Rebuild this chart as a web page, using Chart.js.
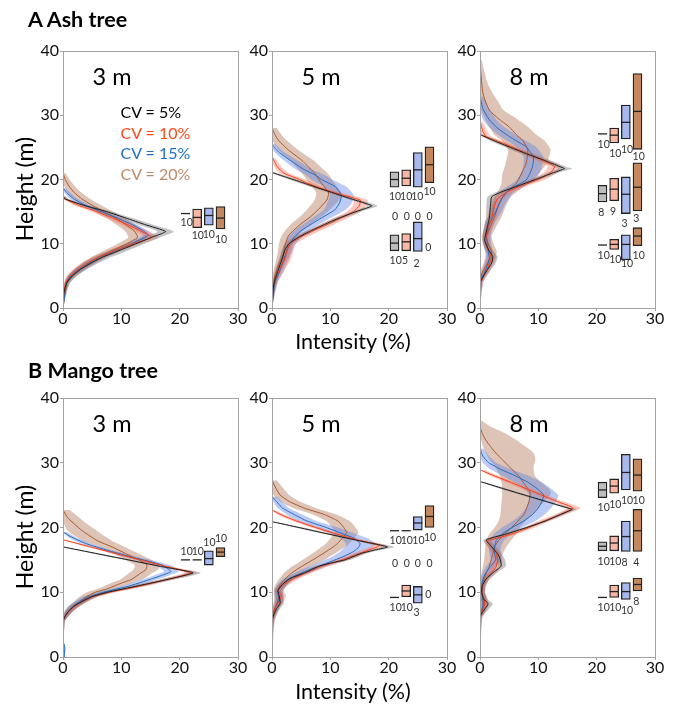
<!DOCTYPE html>
<html><head><meta charset="utf-8">
<script src="https://cdn.jsdelivr.net/npm/chart.js@4.4.1/dist/chart.umd.min.js"></script>
<style>
html,body{margin:0;padding:0;background:#fff;}
body{width:677px;height:706px;position:relative;overflow:hidden;font-family:Lato,"Open Sans",sans-serif;}
canvas{position:absolute;}
.t{position:absolute;white-space:nowrap;line-height:1;color:#000;}
</style></head><body>
<script>
// ---------------- data ----------------
const SERIES = ['CV = 5%', 'CV = 10%', 'CV = 15%', 'CV = 20%'];
const BOX_X = [21, 23, 25, 27];
const XTICKS = [0, 10, 20, 30];
const YTICKS = [0, 10, 20, 30, 40];
// profile rows: [height, lower, mean, upper]
const ash3_cv5 = [[0,0,0,0],[2,0,0.1,0.3],[3,0.1,0.3,0.7],[4,0.3,0.7,1.3],[5,0.9,1.6,2.4],[6,2,3,4.1],[7,3.5,4.8,6.1],[8,5.5,7,8.5],[9,8.2,9.8,11.3],[10,11,12.5,14],[11,13.8,15.2,16.7],[11.9,16.2,17.6,19],[13,12.8,14,15.3],[14,9.8,10.8,11.9],[15,6.7,7.5,8.4],[16,2.8,3.5,4.3],[17,0,0.3,0.9],[17.5,0,0,0.3]];
const ash3_cv10 = [[0,0,0,0],[2,0,0.1,0.3],[4,0.2,0.5,1],[5,0.6,1.2,2],[6,1.7,2.5,3.5],[7,3.2,4.2,5.4],[8,5.2,6.3,7.6],[9,7.8,9,10.3],[10,10.8,12,13.4],[11,14,15.2,16.5],[12,12.2,13.3,14.5],[13,9.9,11,12.2],[14,7.5,8.5,9.6],[15,4.9,5.8,6.8],[16,1.9,2.6,3.5],[17,0,0.3,0.9],[17.4,0,0,0.3]];
const ash3_cv15 = [[0,0,0,0],[4,0.3,0.6,1],[5,0.8,1.4,2],[6,2,2.8,3.6],[7,3.7,4.6,5.5],[8,5.8,6.6,7.5],[9,8.3,9.2,10.1],[10,10.9,11.8,12.7],[11,13.2,14,14.9],[11.4,13.8,14.6,15.5],[12,13,13.8,14.6],[13,11,11.8,12.6],[14,8.5,9.3,10.1],[15,5.8,6.5,7.3],[16,3.1,3.8,4.6],[17,1.2,1.8,2.5],[18,0.2,0.6,1.1],[18.7,0,0,0.3]];
const ash3_cv20 = [[0,0,0,0],[4,0.3,0.7,1.2],[5,0.9,1.6,2.3],[6,1.9,2.8,3.8],[7,3.3,4.4,5.6],[8,5,6.3,7.7],[9,7.2,8.6,10],[10,9.4,10.9,12.4],[11,11.2,12.8,14.4],[12,10.6,12.2,13.8],[13,9.1,10.7,12.3],[14,7.4,9,10.6],[15,5.4,7,8.6],[16,3.5,5,6.5],[17,1.9,3.2,4.6],[18,0.8,1.9,3.1],[19,0.2,1,2],[20,0,0.4,1.1],[21,0,0,0.4]];

const ash5_cv5 = [[0,0,0,0],[3,0,0.2,0.5],[4.4,0.2,0.5,0.9],[6,0.6,1.1,1.6],[7.5,1.2,1.7,2.3],[9,1.7,2.2,2.8],[10,2.3,2.9,3.5],[11,3.8,4.5,5.2],[12,5.9,6.6,7.3],[13,8.3,9,9.7],[14,10.7,11.5,12.3],[15,13.6,14.4,15.2],[15.9,16.3,17.1,18.1],[17,12.8,13.5,14.2],[18,9.5,10.2,10.9],[19,6.2,6.9,7.6],[20,2.9,3.6,4.3],[21,0,0.3,0.8],[21.2,0,0,0.2]];
const ash5_cv10 = [[0,0,0,0],[3,0,0.2,0.6],[4.5,0.2,0.6,1.2],[6,0.6,1.3,2.2],[7.5,1.2,2.1,3.2],[9,1.7,2.6,3.7],[10,2.1,3,4.1],[11,3.7,4.8,6],[12,5.8,7,8.2],[13,8.3,9.5,10.7],[14,10.6,11.8,13],[15,12.8,14,15.2],[16,13.9,15,16.2],[16.8,14,15.1,16.4],[17.5,11.4,12.5,13.7],[18,9.5,10.5,11.6],[19,6.3,7.2,8.2],[20,3.8,4.7,5.7],[21,1.3,2,2.9],[22,0.4,0.9,1.6],[23,0,0.3,0.8],[23.5,0,0,0.3]];
const ash5_cv15 = [[0,0,0,0],[4,0.2,0.5,1],[5.5,0.6,1.2,1.9],[6.7,1,1.7,2.5],[8,1.5,2.2,3.1],[9.6,2,2.8,3.8],[11,2.8,3.8,5],[12.1,3.9,5.1,6.4],[13.7,6.4,7.9,9.4],[15.3,8.9,10.8,12.6],[16.4,9.5,11.6,13.7],[17.6,9.9,11.9,14],[18.9,8.9,10.8,12.7],[20,6.7,8.5,10.3],[20.7,5.8,7.4,9],[21.5,4.2,5.6,7],[22.5,2.7,3.9,5.2],[23.5,1.3,2.3,3.4],[24.3,0.4,1.1,2],[25,0,0.4,1.2],[25.6,0,0,0.5]];
const ash5_cv20 = [[0,0,0,0],[3,0,0.2,0.6],[5,0.1,0.5,1.2],[7,0.6,1.3,2.3],[8.6,1,2,3.2],[10,1.2,2.3,3.6],[11.2,1.6,2.8,4.3],[12,2.2,3.6,5.2],[13.2,3.4,5.1,6.9],[14.2,4.8,6.6,8.5],[15.3,6,7.9,9.9],[16.8,7.3,9.4,11.5],[17.9,7.6,9.7,11.9],[19.4,6.4,8.5,10.7],[21,5.1,7.3,9.5],[22,4.1,6.2,8.3],[23,3.1,5.1,7.1],[24.6,1.1,2.8,4.5],[26.1,0.1,1.1,2.5],[27,0,0.5,1.6],[28,0,0,0.8]];

const ash8_cv5 = [[0,0,0,0],[4,0,0,0.2],[4.3,0,0.2,0.6],[5,0.2,0.6,1.1],[6,0.8,1.3,1.9],[7,1.4,2,2.7],[8,1.6,2.2,3],[9,0.9,1.5,2.2],[10.5,0.4,0.8,1.3],[12,0.6,1.1,1.7],[14,1,1.6,2.3],[16,1.1,1.8,2.6],[17.3,1.3,2,2.8],[18,2.7,3.5,4.3],[19,5.6,6.5,7.4],[20,8.6,9.5,10.4],[21,11.5,12.4,13.3],[21.7,13.4,14.5,15.8],[22,12.7,13.7,14.7],[23,10,11,12],[24,7.1,8,8.9],[25,4.4,5.2,6],[26,1.8,2.5,3.2],[27,0,0,0.5]];
const ash8_cv10 = [[0,0,0,0],[4,0,0.2,0.6],[6,0.6,1.2,1.9],[8,1.3,2,2.8],[10,0.5,1,1.6],[12,0.6,1.2,1.9],[14,1.3,2,2.8],[16,1.7,2.5,3.4],[17,2.1,3,4],[18,3.5,4.5,5.6],[19,5.9,7,8.1],[20,8.8,10,11.2],[21,10.8,12,13.2],[22,11.6,12.8,14.1],[23,9.6,10.7,11.9],[24,7.2,8.2,9.3],[25,4.7,5.6,6.6],[26,2.2,3,3.9],[26.7,0.3,1,1.9],[27.5,0,0.5,1.3],[29,0,0,0.5]];
const ash8_cv15 = [[0,0,0,0],[4.3,0,0.2,0.6],[6,0.5,1,1.6],[7.7,1,1.6,2.3],[9.5,0.7,1.3,2],[11.2,0.5,1.1,1.8],[13.2,0.8,1.6,2.5],[15,1.8,2.7,3.7],[16.3,2.3,3.3,4.4],[17.4,2.9,4,5.2],[18.4,3.8,5,6.3],[19.9,6.3,7.9,9.4],[21,7,8.6,10.2],[22,7.4,9,10.6],[23.5,7.5,9.2,10.9],[24.3,6.9,8.6,10.3],[25.1,6.2,7.9,9.6],[26.7,3.5,5,6.6],[28,1.7,3,4.4],[29.3,0.5,1.6,2.8],[31,0,0.5,1.6],[32.9,0,0,0.5]];
const ash8_cv20 = [[0,0,0,0],[4,0,0,0.3],[5.6,0,0.4,1],[7,0.6,1.3,2.1],[8.7,1.2,2,2.9],[10,0.6,1.4,2.3],[11.2,0.3,1.1,2],[12.7,0.9,1.8,2.8],[14.2,1.4,2.5,3.7],[15.8,1.9,3.1,4.4],[17.3,2.5,3.9,5.3],[18.4,3.2,5,6.8],[19.4,3.7,6.2,8.4],[20.7,3.8,7,9.9],[22.5,4.4,7.9,11.4],[24.6,4.8,8.2,12.1],[26.1,3.7,7.3,11],[27,2.4,6.2,9.6],[28.2,1.6,5,8.2],[29.5,0.8,3.1,6.2],[30.8,0.2,1.6,4],[32,0,1,3.2],[33.4,0,0.5,2.2],[35,0,0.3,1.3],[37,0,0.1,0.7],[38.6,0,0,0.3]];

const mango3_cv5 = [[0,0,0,0],[5.5,0,0,0.3],[6.2,0,0.3,0.8],[7,0.4,0.9,1.5],[7.8,1.1,1.8,2.6],[8.5,2.3,3.1,4],[9.3,3.9,4.9,5.9],[10,6.5,7.6,8.7],[11,11.7,12.9,14.1],[12,16.8,18,19.2],[13,21.2,22.3,23.6],[14,16.1,16.7,17.3],[15,10.6,11.2,11.8],[16,5.1,5.6,6.1],[17,0,0,0.4]];
const mango3_cv10 = [[0,0,0,0],[5.5,0,0,0.3],[6.2,0,0.3,0.8],[7,0.5,1,1.6],[7.8,1.3,2,2.8],[8.5,2.5,3.3,4.2],[9.3,4.2,5.1,6.1],[10,6.9,8,9.1],[11,12.2,13.4,14.6],[12,16.9,18,19.2],[13,20.8,21.9,23],[14,16.8,17.6,18.4],[15,12.5,13.3,14.1],[16,8.3,9,9.7],[17,4.1,4.7,5.3],[18.1,0,0,0.5]];
const mango3_cv15 = [[0,0.1,0.2,0.3],[1.5,0.2,0.3,0.4],[2.5,0,0,0.1],[5.5,0,0,0.3],[6.2,0,0.3,0.8],[7,0.3,0.9,1.6],[7.8,0.9,1.7,2.6],[8.5,1.9,2.8,3.8],[9.3,3.4,4.5,5.6],[10,5.8,7,8.2],[11,10.3,11.5,12.8],[12,13.8,15,16.3],[12.6,15.6,16.9,18.2],[13.2,17.3,18.5,19.8],[14.2,15.7,17,18.4],[15.5,10.4,11.5,12.6],[16.5,6.7,7.5,8.4],[17.5,3.2,4,4.8],[18.5,0.9,1.5,2.2],[19.3,0,0,0.6]];
const mango3_cv20 = [[0,0,0,0],[5.5,0,0,0.3],[6.2,0,0.3,0.9],[7,0.2,0.9,1.7],[7.8,0.9,1.8,2.8],[8.5,1.8,2.8,3.9],[9.3,2.8,4,5.3],[10,4.1,5.5,7],[10.5,5.9,7.5,9.1],[11.4,8.2,10,11.8],[12,9.9,11.8,13.7],[13,11.4,13.4,15.4],[13.5,12.1,14.2,16.3],[14.2,12.3,14.4,16.5],[15,10.8,13,15.2],[16,8.5,10.7,12.9],[17,6.2,8.4,10.6],[18,3.3,5.8,8.3],[19.5,0.8,3.3,5.8],[20.5,0.2,2,4.2],[21.5,0,0.8,2.8],[22.7,0,0,1.2]];

const mango5_cv5 = [[0,0,0,0],[5.5,0,0,0.3],[6.5,0,0.3,0.8],[7.5,0.3,0.8,1.4],[8.3,0.8,1.4,2],[9.5,0.6,1.2,1.8],[10.3,0.5,1,1.6],[11.4,1.4,2,2.7],[12.2,2.6,3.3,4],[13,4.8,5.6,6.4],[14,7.2,8,8.8],[14.5,9.2,10,10.8],[15,11.7,12.5,13.3],[16,14.5,15.3,16.1],[16.5,16.6,17.5,18.4],[17,18.7,19.8,21],[18,14,14.7,15.4],[19,8.9,9.6,10.3],[20,3.9,4.6,5.3],[20.9,0,0,0.5]];
const mango5_cv10 = [[0,0,0,0],[5,0,0.1,0.4],[6,0,0.2,0.6],[7.5,0.1,0.5,1.2],[8.5,0.5,1.2,2],[9.5,0.9,1.6,2.4],[10.3,0.4,1.1,1.9],[11,1,1.7,2.6],[12,2.6,3.5,4.5],[13,4.8,5.8,6.9],[14,7.4,8.5,9.7],[15,10.8,12,13.2],[16,13.8,15,16.2],[17,16.8,18,19.2],[17.3,17.3,18.5,19.7],[18,14,15,16],[19,10.1,11,11.9],[20,6.7,7.5,8.3],[21,3.5,4.2,4.9],[22,0.9,1.5,2.1],[22.7,0,0,0.5]];
const mango5_cv15 = [[0,0,0,0],[6,0,0,0.3],[7,0,0.3,0.8],[8,0.3,0.8,1.5],[9,0.5,1.2,2],[10.3,0.4,1.1,1.9],[11,0.8,1.6,2.5],[12,1.8,2.8,3.9],[13.4,4.8,6.2,7.6],[14,6.5,8,9.5],[15,9,10.8,12.6],[15.5,10.3,12.2,14.1],[16.3,11.7,14,16.3],[17,12.5,14.9,17.3],[17.5,12.7,15.1,17.8],[18.3,11.9,14.2,16.5],[19,10,12.2,14.4],[20,7.3,9.3,11.3],[21,4.4,6,7.6],[22,2.5,3.8,5.2],[23,1,1.8,2.9],[24,0.2,0.8,1.7],[24.8,0,0,0.8]];
const mango5_cv20 = [[0,0,0,0],[6,0,0,0.4],[7,0,0.3,0.9],[8,0.2,0.7,1.4],[9,0.4,1.1,2],[10,0.3,1,1.9],[11,0.5,1.3,2.4],[12,1.2,2.2,3.5],[13,2.1,3.4,4.9],[14,3.5,5.1,6.8],[15,5.2,7,8.9],[16,6.9,8.8,10.8],[17,8.5,10.5,12.5],[17.5,9.2,11.2,13.2],[18.5,10.2,12.2,14.2],[19.2,10.8,12.8,14.8],[20,10.3,12.3,14.3],[21,9.3,11.3,13.3],[22,7,9,11],[23,3.6,5.5,7.5],[24,1.5,3,4.8],[25,0.3,1.4,3],[26,0,0.7,2],[27.3,0,0,0.8]];

const mango8_cv5 = [[0,0,0,0],[6.2,0,0,0.3],[7,0,0.5,1.1],[7.5,0.3,0.9,1.6],[8.2,0.7,1.4,2.2],[9,0.1,0.6,1.2],[10,0,0.3,0.8],[11,0,0.4,0.9],[12,0.5,1,1.6],[13,1.6,2.2,2.9],[14,3,3.6,4.4],[15,2.9,3.5,4.3],[16,2.4,3,3.7],[17,1.4,2,2.7],[18.1,0.6,1.1,1.7],[19,3.9,4.5,5.1],[20,7.4,8,8.6],[21,10.6,11.2,11.8],[22,13.2,13.8,14.4],[22.8,15.1,15.8,16.6],[23,14.4,15.1,15.8],[24,10.8,11.4,12],[25,7.1,7.7,8.3],[26,3.4,4,4.6],[27.1,0,0,0.4]];
const mango8_cv10 = [[0,0,0,0],[6,0,0,0.3],[7,0,0.4,1],[8,0.2,0.8,1.5],[9,0.1,0.7,1.3],[10,0,0.3,0.8],[11,0,0.4,0.9],[12,0.4,1,1.7],[13,1.3,2,2.8],[14,2,2.8,3.6],[15,2.2,3,3.8],[16,2,2.8,3.6],[17,1.3,2,2.8],[17.8,0.6,1.3,2],[18,0.7,1.5,2.3],[19,4.6,5.5,6.4],[20,7.6,8.5,9.4],[21,10,11,12],[22,12.8,13.8,14.8],[23,14.9,16,17.2],[24,12.3,13.3,14.3],[25,9.7,10.6,11.5],[26,7.1,7.9,8.7],[27,4.4,5.2,6],[28,1.7,2.4,3.1],[28.9,0,0,0.6]];
const mango8_cv15 = [[0,0,0,0],[6,0,0,0.3],[7,0,0.2,0.7],[8,0.1,0.5,1.1],[9,0,0.5,1.1],[10,0,0.3,0.8],[11,0,0.3,0.9],[12,0.1,0.5,1.2],[13,0.4,1,1.8],[14,1.1,1.8,2.7],[15,1.9,2.7,3.7],[16,1.6,2.5,3.5],[17,1.5,2.5,3.6],[18,1.6,2.8,4.1],[19,2.4,3.8,5.3],[20,3.8,5.5,7.3],[21,5.6,7.5,9.5],[22,7,9,11.1],[23,7.9,10,12.2],[24,8.3,10.6,13],[25,8.5,10.9,13.4],[26,7.5,9.8,12.2],[27,5.9,8.2,10.6],[28,3.8,6,8.3],[29,1.8,3.5,5.3],[30,0.5,1.5,2.8],[31,0,0.5,1.6],[32.2,0,0,0.6]];
const mango8_cv20 = [[0,0,0,0],[6,0,0,0.4],[7,0,0.3,0.9],[8,0,0.6,1.3],[9,0,0.5,1.2],[10,0,0.3,0.9],[11,0,0.4,1.1],[12,0.1,0.7,1.5],[13,0.3,1.1,2.1],[14,0.5,1.6,2.9],[15,0.7,1.9,3.4],[16,0.8,2.2,3.9],[17,0.9,2.5,4.5],[18,1.1,3.2,5.3],[19,1.6,4.2,6.2],[20,2.5,5.4,6.8],[21,3.2,6.5,7.8],[22,3.5,7.5,9],[23,3.6,8,10],[24,3.7,8.4,11],[25.3,3.8,8.6,12.2],[26,3.8,8.2,11.8],[27,3.7,7.4,10.5],[28,3.4,6.6,9.4],[29.4,2.6,5,9.2],[30.5,1.6,3.8,9.5],[31.5,1,2.7,9.2],[32.5,0.5,1.8,7.8],[33.5,0.2,1,6.2],[34.5,0,0.4,4.4],[35.6,0,0,1.8],[36.5,0,0,0.3]];

// box rows: [series, lower, median, upper]  (lower = upper: single value)
const ash3_boxes = [[0,14.7,14.7,14.7],[1,12.5,14.1,15.4],[2,12.9,14.4,15.6],[3,12.3,14.0,15.8]];
const ash5_boxes = [[0,18.8,20.0,21.2],[1,19.0,20.2,21.5],[2,18.8,21.5,24.2],[3,19.5,22.3,25.1],
                    [0,8.9,10.1,11.4],[1,8.9,10.3,11.6],[2,8.8,10.8,13.4]];
const ash8_boxes = [[0,27.1,27.1,27.1],[1,25.7,26.9,28.0],[2,26.3,28.9,31.6],[3,24.7,30.6,36.5],
                    [0,16.5,17.8,19.1],[1,16.7,18.5,20.2],[2,14.7,17.7,20.4],[3,15.1,18.8,22.6],
                    [0,9.8,9.8,9.8],[1,9.1,9.9,10.7],[2,7.5,9.9,11.4],[3,9.7,11.2,12.5]];
const mango3_boxes = [[0,15.0,15.0,15.0],[1,15.0,15.0,15.0],[2,14.2,15.2,16.4],[3,15.5,16.2,16.9]];
const mango5_boxes = [[0,19.5,19.5,19.5],[1,19.5,19.5,19.5],[2,19.6,20.7,21.7],[3,20.0,21.7,23.4],
                      [0,9.2,9.2,9.2],[1,9.3,10.2,11.1],[2,8.3,9.6,10.9]];
const mango8_boxes = [[0,24.6,25.8,27.0],[1,25.3,26.4,27.5],[2,25.8,28.5,31.3],[3,25.6,28.1,30.6],
                      [0,16.4,17.1,17.8],[1,16.4,17.6,18.7],[2,16.3,18.6,21.0],[3,16.3,19.5,22.8],
                      [0,9.2,9.2,9.2],[1,9.2,10.1,11.1],[2,8.9,10.1,11.5],[3,10.2,11.2,12.2]];

// sample counts: [x, height, text]
const ash3_counts = [[21.2,13.3,'10'],[23.1,11.3,'10'],[25.0,11.4,'10'],[27.1,10.7,'10']];
const ash5_counts = [[21.1,17.3,'10'],[23.0,17.3,'10'],[24.9,17.3,'10'],[27.0,18.1,'10'],
                     [21.1,14.3,'0'],[23.1,14.3,'0'],[25.0,14.3,'0'],[27.0,14.3,'0'],
                     [21.2,7.4,'10'],[22.8,7.4,'5'],[24.8,6.95,'2'],[26.8,9.4,'0']];
const ash8_counts = [[21.2,25.4,'10'],[23.2,24.1,'10'],[25.2,24.6,'10'],[27.2,23.6,'10'],
                     [20.8,14.9,'8'],[22.8,15.0,'9'],[24.8,13.1,'3'],[26.8,13.9,'3'],
                     [21.2,8.1,'10'],[23.2,7.6,'10'],[25.2,6.9,'10'],[27.2,8.1,'10']];
const mango3_counts = [[21.2,16.3,'10'],[23.1,16.3,'10'],[25.1,17.7,'10'],[27.1,18.3,'10']];
const mango5_counts = [[21.2,18.0,'10'],[23.1,18.0,'10'],[25.1,18.0,'10'],[27.1,18.4,'10'],
                       [21.1,14.5,'0'],[23.1,14.5,'0'],[25.0,14.5,'0'],[27.0,14.5,'0'],
                       [21.2,7.7,'10'],[23.1,7.7,'10'],[24.8,6.8,'3'],[26.8,9.6,'0']];
const mango8_counts = [[21.2,23.1,'10'],[23.2,23.6,'10'],[25.2,24.2,'10'],[27.2,24.1,'10'],
                       [21.2,14.8,'10'],[23.2,14.8,'10'],[24.8,14.6,'8'],[26.8,14.6,'4'],
                       [21.2,7.6,'10'],[23.2,7.6,'10'],[25.2,7.1,'10'],[26.8,8.6,'8']];

// ---------------- styles / layout ----------------
const LINE_COL = ['#1c1c1c', '#ff3b10', '#1d6cc2', '#a8562a'];
const BAND_COL = ['rgba(125,125,125,0.45)', 'rgba(250,110,90,0.38)', 'rgba(95,130,230,0.42)', 'rgba(175,115,80,0.42)'];
const BOX_COL = ['#bdbdbd', '#f8b7a5', '#a7b8ee', '#c4885f'];
const LEG_COL = ['#000000', '#ff4a1a', '#1f70c8', '#c08a6a'];
const FONT = 'Lato, "Open Sans", sans-serif';

const PANELS = [
  {label:'3 m', rect:[63,51,238,308], prof:[ash3_cv5,ash3_cv10,ash3_cv15,ash3_cv20], boxes:ash3_boxes, counts:ash3_counts},
  {label:'5 m', rect:[272,51,447,308], prof:[ash5_cv5,ash5_cv10,ash5_cv15,ash5_cv20], boxes:ash5_boxes, counts:ash5_counts},
  {label:'8 m', rect:[480,51,655,308], prof:[ash8_cv5,ash8_cv10,ash8_cv15,ash8_cv20], boxes:ash8_boxes, counts:ash8_counts},
  {label:'3 m', rect:[63,398,238,657], prof:[mango3_cv5,mango3_cv10,mango3_cv15,mango3_cv20], boxes:mango3_boxes, counts:mango3_counts},
  {label:'5 m', rect:[272,398,447,657], prof:[mango5_cv5,mango5_cv10,mango5_cv15,mango5_cv20], boxes:mango5_boxes, counts:mango5_counts},
  {label:'8 m', rect:[480,398,655,657], prof:[mango8_cv5,mango8_cv10,mango8_cv15,mango8_cv20], boxes:mango8_boxes, counts:mango8_counts},
];

const PAD_L = 40, PAD_T = 12, PAD_R = 14, PAD_B = 30;

const framePlugin = {
  id: 'frame',
  afterDraw(chart) {
    const {ctx, chartArea: a} = chart;
    ctx.save();
    ctx.strokeStyle = '#a3a3a3';
    ctx.lineWidth = 1;
    ctx.strokeRect(Math.round(a.left) + 0.5, Math.round(a.top) + 0.5, Math.round(a.right - a.left), Math.round(a.bottom - a.top));
    ctx.restore();
  }
};
function countsPlugin(items) {
  return {
    id: 'counts',
    afterDatasetsDraw(chart) {
      const {ctx, scales: {x, y}} = chart;
      ctx.save();
      ctx.font = '10.5px ' + FONT;
      ctx.fillStyle = '#333';
      ctx.textAlign = 'center';
      ctx.textBaseline = 'middle';
      items.forEach(([vx, vy, t]) => ctx.fillText(t, x.getPixelForValue(vx), y.getPixelForValue(vy)));
      ctx.restore();
    }
  };
}

function axis(min, max, ticks, isX) {
  return {
    type: 'linear', position: isX ? 'bottom' : 'left', min, max, offset: false,
    afterBuildTicks: s => { s.ticks = ticks.map(v => ({value: v})); },
    ticks: {font: {family: FONT, size: 16}, color: '#111', padding: isX ? -2 : 1, maxRotation: 0, autoSkip: false},
    grid: {display: true, offset: false, drawOnChartArea: false, tickLength: 3, color: '#a3a3a3'},
    border: {display: false},
    afterFit: s => { if (isX) s.height = PAD_B; else s.width = PAD_L; }
  };
}

function makePanel(p) {
  const [L, T, R, B] = p.rect;
  const W = (R - L) + PAD_L + PAD_R, H = (B - T) + PAD_T + PAD_B;
  const cv = document.createElement('canvas');
  cv.width = W; cv.height = H;
  cv.style.left = (L - PAD_L) + 'px'; cv.style.top = (T - PAD_T) + 'px';
  cv.style.width = W + 'px'; cv.style.height = H + 'px';
  document.body.appendChild(cv);

  const ds = [];
  // bands
  p.prof.forEach((rows, s) => {
    ds.push({type: 'line', data: rows.map(r => ({x: r[1], y: r[0]})), borderWidth: 0, borderColor: 'transparent', pointRadius: 0, fill: false, tension: 0.2, order: 30});
    ds.push({type: 'line', data: rows.map(r => ({x: r[3], y: r[0]})), borderWidth: 0, borderColor: 'transparent', pointRadius: 0, fill: '-1', backgroundColor: BAND_COL[s], tension: 0.2, order: 30});
  });
  // mean lines (black drawn last / on top)
  p.prof.forEach((rows, s) => {
    ds.push({type: 'line', data: rows.map(r => ({x: r[2], y: r[0]})), borderWidth: 1, borderColor: LINE_COL[s], pointRadius: 0, fill: false, tension: 0.15, order: 10 + s});
  });
  // boxes
  const real = p.boxes.filter(b => b[1] !== b[3]);
  ds.push({type: 'bar', indexAxis: 'x', grouped: false, barThickness: 9,
    data: real.map(b => ({x: BOX_X[b[0]], y: [b[1], b[3]]})),
    backgroundColor: real.map(b => BOX_COL[b[0]]),
    borderColor: '#222', borderWidth: 1.3, borderSkipped: false, order: 5});
  // medians / single values
  ds.push({type: 'line', showLine: false, data: p.boxes.map(b => ({x: BOX_X[b[0]], y: b[2]})),
    pointStyle: 'line', pointRadius: 4.5, pointBorderWidth: 1.3, pointBorderColor: '#222', pointBackgroundColor: '#222', order: 1});

  new Chart(cv, {
    type: 'line',
    data: {datasets: ds},
    options: {
      responsive: false, animation: false, events: [], indexAxis: 'y',
      layout: {padding: {top: PAD_T, right: PAD_R, left: 0, bottom: 0}},
      plugins: {legend: {display: false}, tooltip: {enabled: false}, filler: {drawTime: 'beforeDatasetsDraw', propagate: false}},
      scales: {x: axis(0, 30, XTICKS, true), y: axis(0, 40, YTICKS, false)}
    },
    plugins: [framePlugin, countsPlugin(p.counts)]
  });

  text(p.label, L + 49, T + 25.5, 'font-size:23.5px;', 'c');
}

function text(s, x, y, css, mode, color) {
  const d = document.createElement('div');
  d.className = 't';
  d.textContent = s;
  d.style.cssText += 'left:' + x + 'px;top:' + y + 'px;' + css + (color ? 'color:' + color + ';' : '');
  d.style.transform = mode === 'l' ? 'translate(0,-50%)' : mode === 'r' ? 'translate(-50%,-50%) rotate(-90deg)' : 'translate(-50%,-50%)';
  document.body.appendChild(d);
}

PANELS.forEach(makePanel);

text('A Ash tree', 28, 20, 'font-size:21.5px;font-weight:700;', 'l');
text('B Mango tree', 28, 371, 'font-size:21.5px;font-weight:700;', 'l');
text('Height (m)', 24, 189, 'font-size:23px;', 'r');
text('Height (m)', 24, 537, 'font-size:23px;', 'r');
text('Intensity (%)', 353, 342, 'font-size:21.5px;', 'c');
text('Intensity (%)', 353, 692, 'font-size:21.5px;', 'c');
SERIES.forEach((s, i) => text(s, 120.5, [111.7, 132.7, 153.3, 174][i], 'font-size:16px;', 'l', LEG_COL[i]));
</script>
</body></html>
